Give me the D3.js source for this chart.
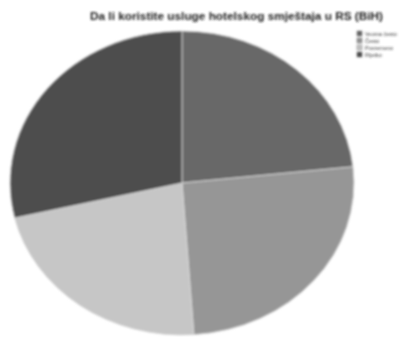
<!DOCTYPE html>
<html>
<head>
<meta charset="utf-8">
<script src="https://cdn.jsdelivr.net/npm/d3@7"></script>
<style>
  body { margin: 0; background: #fff; }
  svg { display: block; }
</style>
</head>
<body>
<div id="chart"></div>
<script>
// Data //
var categories = ["Veoma često", "Često", "Povremeno", "Rijetko"];
var values = [23.3, 25.6, 22.4, 28.7];
var colors = ["#676767", "#969696", "#c6c6c6", "#4d4d4d"];
var title = "Da li koristite usluge hotelskog smještaja u RS (BiH)";

var svgWidth = 415;
var svgHeight = 337;

var svg = d3.select("#chart")
  .append("svg")
  .attr("width", svgWidth)
  .attr("height", svgHeight);

// soft blur, the reference is a low quality scan
var defs = svg.append("defs");
defs.append("filter")
  .attr("id", "soft")
  .append("feGaussianBlur")
  .attr("stdDeviation", 0.8);

var root = svg.append("g").attr("filter", "url(#soft)");

// Title //
root.append("text")
  .attr("x", 90)
  .attr("y", 20)
  .attr("textLength", 293)
  .attr("lengthAdjust", "spacingAndGlyphs")
  .attr("font-family", "Liberation Sans, Arial, sans-serif")
  .attr("font-weight", "bold")
  .attr("font-size", 10)
  .attr("fill", "#222")
  .text(title);

// Pie (elliptic, drawn as a circle and stretched) //
var cx = 182, cy = 183, rx = 172, ry = 152;

var pie = d3.pie().sort(null).value(d => d);
var arc = d3.arc().innerRadius(0).outerRadius(ry);

var pieGroup = root.append("g")
  .attr("transform", `translate(${cx}, ${cy}) scale(${rx / ry}, 1)`);

pieGroup.selectAll("path")
  .data(pie(values))
  .enter()
  .append("path")
  .attr("d", arc)
  .attr("fill", (d, i) => colors[i])
  .attr("stroke", "#d8d8d8")
  .attr("stroke-width", 0.8)
  .attr("vector-effect", "non-scaling-stroke");

// Legend //
var legend = root.append("g")
  .attr("transform", "translate(357, 31)");

var items = legend.selectAll("g")
  .data(categories)
  .enter()
  .append("g")
  .attr("transform", (d, i) => `translate(0, ${i * 7})`);

items.append("rect")
  .attr("width", 5)
  .attr("height", 5)
  .attr("fill", (d, i) => colors[i])
  .attr("stroke", "#555")
  .attr("stroke-width", 0.4);

items.append("text")
  .attr("x", 8)
  .attr("y", 4.5)
  .attr("font-family", "Liberation Sans, Arial, sans-serif")
  .attr("font-size", 5.5)
  .attr("fill", "#444")
  .text(d => d);
</script>
</body>
</html>
